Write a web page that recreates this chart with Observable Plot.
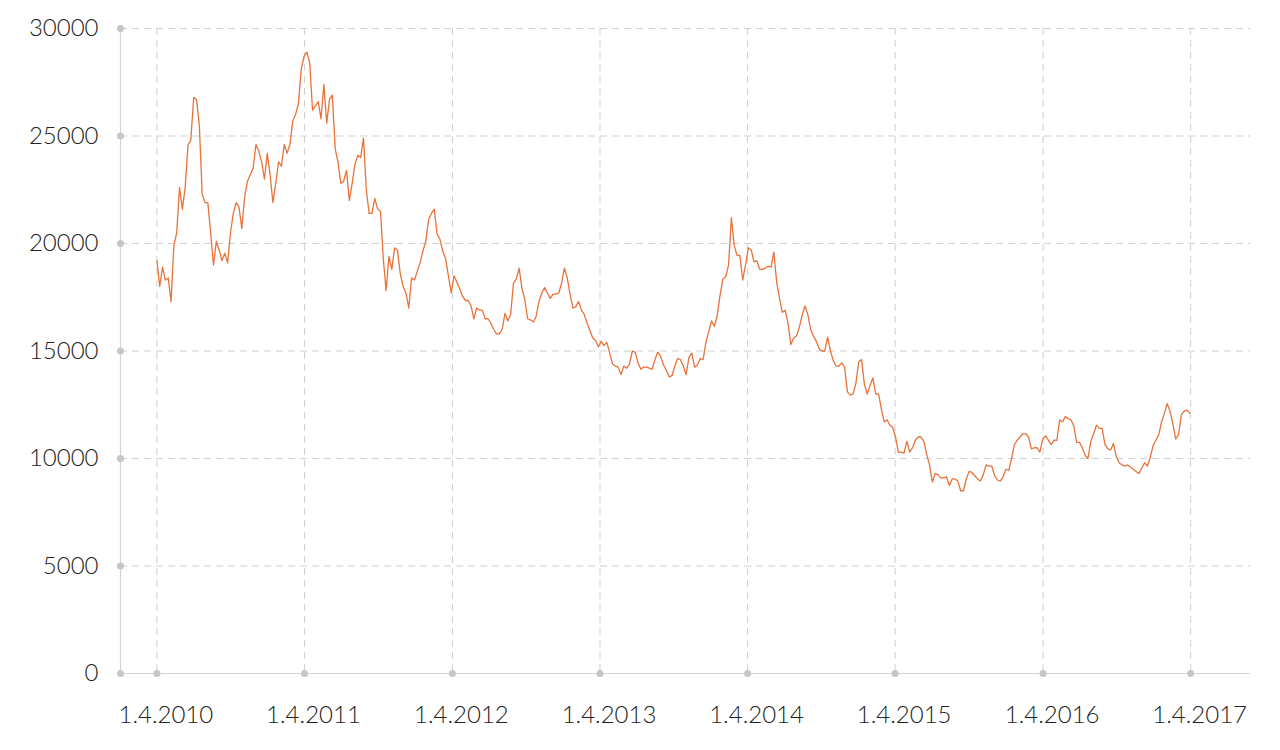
<!DOCTYPE html>
<html><head><meta charset="utf-8">
<script src="https://cdn.jsdelivr.net/npm/d3@7"></script>
<script src="https://cdn.jsdelivr.net/npm/@observablehq/plot@0.6"></script>
<style>html,body{margin:0;padding:0;background:#fff}</style>
</head><body><div id="chart"></div>
<script>
// Weekly observations (Thursdays) from 1.4.2010 to 30.3.2017
const startDate = "2010-04-01";
const endDate = "2017-03-31";
const values = [
  19200,18000,18900,18300,18400,17300,19900,20500,22600,21600,
  22600,24600,24800,26800,26700,25500,22300,21900,21900,20500,
  19000,20100,19700,19200,19550,19100,20500,21400,21900,21700,
  20700,22150,22900,23200,23500,24600,24300,23800,23000,24200,
  23200,21900,22800,
  23800,23600,24600,24200,24600,25700,26000,26500,28100,28700,
  28900,28400,26200,26400,26600,25800,27400,25600,26700,26900,
  24400,23800,22800,22900,23400,22000,22800,23700,24100,24000,
  24900,22500,21400,21400,22100,21600,21500,19300,17800,19400,
  18800,19800,19700,18600,18000,17700,17000,18400,18300,18700,
  19100,19650,20100,21100,21400,21600,20450,20200,19650,19300,
  18500,17700,18500,18200,17900,17550,17350,17350,17100,16500,
  17000,16900,16900,16500,16500,16300,16000,15800,15800,16000,
  16750,16400,
  16700,18150,18350,18850,17900,17400,16500,16450,16350,16600,
  17300,17700,17950,17700,17450,17650,17650,17700,18150,18850,
  18400,17650,17000,17050,17300,16900,16700,16300,15950,15600,
  15500,15200,15450,15250,15400,14900,14400,14300,14250,13900,
  14300,
  14200,14400,15000,14950,14450,14150,14250,14250,14200,14150,
  14600,14950,14750,14350,14100,13800,13850,14300,14650,14600,
  14300,13900,14700,14900,14250,14350,14650,14600,15400,15900,
  16400,16150,16650,17600,18350,18450,19000,21200,19900,19450,
  19450,18300,
  19000,19800,19700,19150,19200,18800,18800,18850,18950,18900,
  19600,18200,17450,16800,16900,16300,15300,15600,15700,16100,
  16650,17100,16700,16000,15700,15450,15100,15000,15000,15650,
  15000,14550,14300,14300,14450,14250,13100,12950,13000,13500,
  14500,14600,
  13450,13000,13400,13750,13000,13000,12300,11700,11800,11550,
  11450,11000,10300,10300,10250,10800,10300,10500,10850,11000,
  11000,10800,10200,9700,8900,9300,9250,9100,9100,9150,
  8750,9050,9050,8950,8500,8500,9050,9400,9350,9200,
  9050,8950,9250,
  9700,9650,9650,9200,9000,8950,9150,9500,9450,10000,
  10650,10850,11000,11150,11150,11000,10450,10500,10500,10300,
  10900,11050,10850,10650,10850,10850,11800,11700,11950,11850,
  11800,11500,10750,10750,10500,10150,10000,10800,11150,11550,
  11400,11400,
  10650,10450,10400,10700,10100,9800,9700,9650,9700,9600,
  9500,9400,9300,9550,9800,9650,10050,10600,10850,11100,
  11700,12100,12550,12200,11600,10900,11100,12050,12200,12250,
  12100
];
const yTicks = [0, 5000, 10000, 15000, 20000, 25000, 30000];
const xTickLabels = ["1.4.2010","1.4.2011","1.4.2012","1.4.2013","1.4.2014","1.4.2015","1.4.2016","1.4.2017"];

const parseDMY = s => { const [d, m, y] = s.split(".").map(Number); return new Date(Date.UTC(y, m - 1, d)); };
const xTicks = xTickLabels.map(parseDMY);
const dates = d3.utcThursday.range(new Date(startDate), d3.utcDay.offset(new Date(endDate), 1));
const n = Math.min(dates.length, values.length);
const data = d3.range(n).map(i => ({date: dates[i], value: values[i]}));
const xDomain = [new Date("2010-01-01"), new Date("2017-08-27")];
const fmtDate = d => `${d.getUTCDate()}.${d.getUTCMonth() + 1}.${d.getUTCFullYear()}`;

const gridStyle = {stroke: "#cfcfcf", strokeOpacity: 1, strokeWidth: 1, strokeDasharray: "7,5"};

const chart = Plot.plot({
  width: 1280,
  height: 750,
  marginLeft: 120,
  marginRight: 30,
  marginTop: 28,
  marginBottom: 77,
  style: {fontFamily: "Lato, 'Open Sans', sans-serif", fontSize: "24px", fontWeight: 300, color: "#222", background: "#fff"},
  x: {type: "utc", domain: xDomain},
  y: {domain: [0, 30000]},
  marks: [
    Plot.gridY(yTicks, gridStyle),
    Plot.gridX(xTicks, gridStyle),
    Plot.ruleX([xDomain[0]], {stroke: "#d4d4d4", strokeWidth: 1.2}),
    Plot.ruleY([0], {stroke: "#d4d4d4", strokeWidth: 1.2}),
    Plot.dot(yTicks, {x: () => xDomain[0], y: d => d, r: 3.5, fill: "#c6c6c6", stroke: null}),
    Plot.dot(xTicks, {x: d => d, y: () => 0, r: 3.5, fill: "#c6c6c6", stroke: null}),
    Plot.lineY(data, {x: "date", y: "value", stroke: "#e8733a", strokeWidth: 1.3}),
    Plot.axisY(yTicks, {tickSize: 0, tickPadding: 22, tickFormat: d3.format("d"), label: null, fill: "#222"}),
    Plot.axisX(xTicks, {tickSize: 0, tickPadding: 32, dx: 9, tickFormat: fmtDate, label: null, fill: "#222"})
  ]
});
document.getElementById("chart").appendChild(chart);
</script>
</body></html>
